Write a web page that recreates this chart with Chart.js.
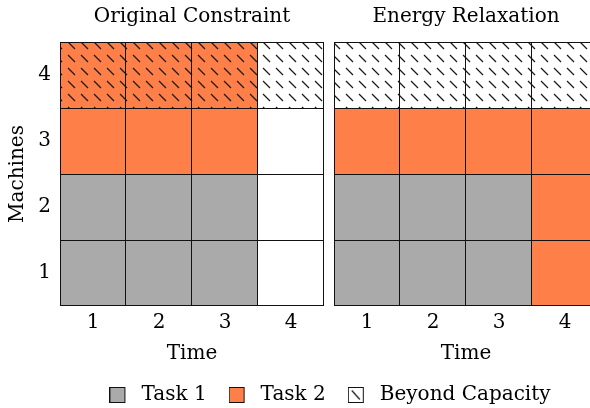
<!DOCTYPE html>
<html>
<head>
<meta charset="utf-8">
<script src="https://cdn.jsdelivr.net/npm/chart.js@4.4.1/dist/chart.umd.min.js"></script>
<style>
  html, body { margin: 0; padding: 0; background: #fff; }
  #figure { position: relative; width: 590px; height: 408px; overflow: hidden; }
  canvas { position: absolute; }
  #original { left: 0; top: 0; }
  #relaxed { left: 330px; top: 0; }
  #legend { left: 0; top: 363px; }
</style>
</head>
<body>
<div id="figure">
  <canvas id="original" width="330" height="375"></canvas>
  <canvas id="relaxed" width="280" height="375"></canvas>
  <canvas id="legend" width="660" height="100"></canvas>
</div>
<script>
const times = ["1", "2", "3", "4"]
const machines = ["1", "2", "3", "4"]
const cellHeight = [1, 1, 1, 1]

// rows are machines 1..4 (bottom to top), columns are times 1..4
// 1 = Task 1, 2 = Task 2, 0 = idle
const originalTasks = [
  [1, 1, 1, 0],
  [1, 1, 1, 0],
  [2, 2, 2, 0],
  [2, 2, 2, 0],
]
const relaxedTasks = [
  [1, 1, 1, 2],
  [1, 1, 1, 2],
  [2, 2, 2, 2],
  [0, 0, 0, 0],
]
const beyondCapacityMachines = ["4"]
const legendLabels = ["Task 1", "Task 2", "Beyond Capacity"]

const taskColors = {0: "#ffffff", 1: "#aaaaaa", 2: "#ff7f48"}
const lineColor = "#111111"

Chart.defaults.font = {family: "'DejaVu Serif', serif", size: 20, lineHeight: 1.2}
Chart.defaults.color = "#000000"

const makeHatch = (ctx, base) => {
  const tile = document.createElement("canvas")
  tile.width = 13
  tile.height = 13
  const t = tile.getContext("2d")
  t.fillStyle = base
  t.fillRect(0, 0, 13, 13)
  t.strokeStyle = "#1a1a1a"
  t.lineWidth = 1.3
  t.beginPath()
  t.moveTo(3, 3)
  t.lineTo(10, 10)
  t.stroke()
  return ctx.createPattern(tile, "repeat")
}

const panelDatasets = (tasks, ctx) =>
  machines.map((machine, row) => ({
    label: `Machine ${machine}`,
    data: cellHeight,
    backgroundColor: tasks[row].map((task) =>
      beyondCapacityMachines.includes(machine) ? makeHatch(ctx, taskColors[task]) : taskColors[task]
    ),
    borderColor: lineColor,
    borderWidth: (c) => ({top: 1, right: 1, bottom: row === 0 ? 1 : 0, left: c.dataIndex === 0 ? 1 : 0}),
    borderSkipped: false,
    inflateAmount: 0,
    categoryPercentage: 1,
    barPercentage: 1,
  }))

const panelConfig = (canvas, title, tasks, showMachines, padding) => ({
  type: "bar",
  data: {
    labels: times,
    datasets: panelDatasets(tasks, canvas.getContext("2d")),
  },
  options: {
    responsive: false,
    animation: false,
    events: [],
    layout: {padding},
    plugins: {
      legend: {display: false},
      tooltip: {enabled: false},
      title: {
        display: true,
        text: title,
        fullSize: false,
        font: {weight: "normal"},
        padding: {top: 4.5, bottom: 13.5},
      },
    },
    scales: {
      x: {
        stacked: true,
        grid: {display: false, drawTicks: false},
        border: {display: false},
        ticks: {padding: 5},
        title: {display: true, text: "Time", padding: {top: 0, bottom: 9}},
        afterFit: (axis) => {
          axis.height = 69
        },
      },
      y: {
        stacked: true,
        display: showMachines,
        min: 0,
        max: 4,
        grid: {display: false, drawTicks: false},
        border: {display: false},
        ticks: {
          padding: 9,
          callback: (value) => machines[Math.floor(value)],
        },
        afterBuildTicks: (axis) => {
          axis.ticks = machines.map((_, i) => ({value: i + 0.5}))
        },
        title: {display: true, text: "Machines", padding: {top: 6, bottom: 0}},
        afterFit: (axis) => {
          axis.width = showMachines ? 60 : 0
        },
      },
    },
  },
})

const original = document.getElementById("original")
new Chart(original, panelConfig(original, "Original Constraint", originalTasks, true, {top: 0, right: 6, bottom: 0, left: 0}))

const relaxed = document.getElementById("relaxed")
new Chart(relaxed, panelConfig(relaxed, "Energy Relaxation", relaxedTasks, false, {top: 0, right: 12, bottom: 0, left: 4}))

// legend swatches: a 15px box plus blank space so the text sits a little further off
const makeSwatch = (fill, hatched) => {
  const swatch = document.createElement("canvas")
  swatch.width = 22
  swatch.height = 16
  const s = swatch.getContext("2d")
  s.fillStyle = fill
  s.fillRect(0.5, 0.5, 15, 15)
  if (hatched) {
    s.strokeStyle = "#1a1a1a"
    s.lineWidth = 1.2
    s.beginPath()
    s.moveTo(4, 3.5)
    s.lineTo(12, 12.5)
    s.stroke()
  }
  s.strokeStyle = lineColor
  s.lineWidth = 1
  s.strokeRect(0.5, 0.5, 15, 15)
  return swatch
}

const legendSwatches = [
  makeSwatch(taskColors[1], false),
  makeSwatch(taskColors[2], false),
  makeSwatch(taskColors[0], true),
]

new Chart(document.getElementById("legend"), {
  type: "bar",
  data: {
    labels: [],
    datasets: legendLabels.map((label) => ({label, data: []})),
  },
  options: {
    responsive: false,
    animation: false,
    events: [],
    scales: {x: {display: false}, y: {display: false}},
    plugins: {
      tooltip: {enabled: false},
      legend: {
        position: "top",
        maxHeight: 90,
        labels: {
          usePointStyle: true,
          pointStyleWidth: 22,
          boxHeight: 16,
          padding: 22,
          generateLabels: () =>
            legendLabels.map((text, i) => ({
              text,
              pointStyle: legendSwatches[i],
              fillStyle: "#ffffff",
              strokeStyle: lineColor,
              lineWidth: 0,
              hidden: false,
              datasetIndex: i,
            })),
        },
      },
    },
  },
})
</script>
</body>
</html>
